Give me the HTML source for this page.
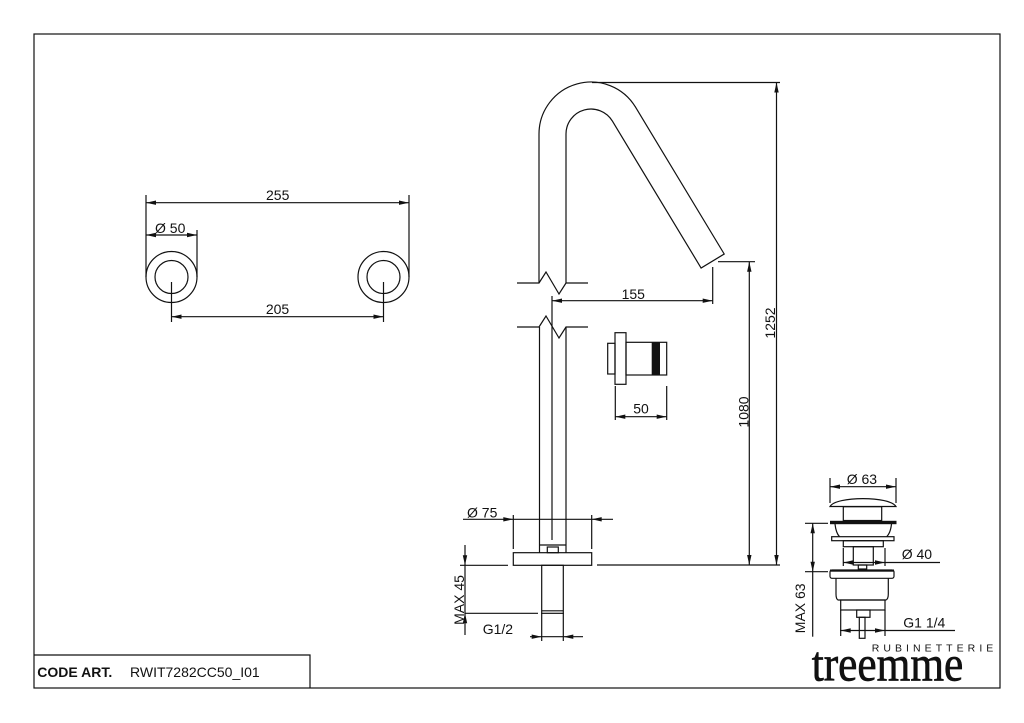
<!DOCTYPE html>
<html><head><meta charset="utf-8"><style>
html,body{margin:0;padding:0;background:#fff;}
svg{display:block;}
text{font-family:"Liberation Sans",Arial,sans-serif;fill:#111;}
</style></head><body>
<svg width="1024" height="723" viewBox="0 0 1024 723" xmlns="http://www.w3.org/2000/svg">
<rect x="0" y="0" width="1024" height="723" fill="#fff"/>
<g fill="none" stroke="#111" stroke-width="1.2">
<!-- frame -->
<rect x="34" y="34" width="966" height="654"/>
<polyline points="34,655 310,655 310,688"/>

<!-- left view circles -->
<circle cx="171.5" cy="277" r="25.5"/>
<circle cx="171.5" cy="277" r="16.5"/>
<circle cx="383.5" cy="277" r="25.5"/>
<circle cx="383.5" cy="277" r="16.5"/>
<line x1="146" y1="195" x2="146" y2="277"/>
<line x1="409" y1="195" x2="409" y2="277"/>
<line x1="197" y1="230" x2="197" y2="277"/>
<line x1="146" y1="202.7" x2="409" y2="202.7"/>
<line x1="146" y1="235" x2="197" y2="235"/>
<line x1="171.5" y1="282" x2="171.5" y2="322"/>
<line x1="383.5" y1="282" x2="383.5" y2="322"/>
<line x1="171.5" y1="316.7" x2="383.5" y2="316.7"/>

<!-- spout -->
<path d="M539,283 L539,134 A52,52 0 0 1 635.5,107.1 L724.2,254 L701.1,268 L612.4,121.1 A25,25 0 0 0 566,134 L566,283"/>
<polyline points="517,283 539,283 546,272 559,294 566,283 588,283"/>
<polyline points="517,327 539,327 546,316 559,338 566,327 588,327"/>
<line x1="539.5" y1="327" x2="539.5" y2="552.7"/>
<line x1="566" y1="327" x2="566" y2="552.7"/>
<line x1="552" y1="296" x2="552" y2="540"/>
<!-- 155 -->
<line x1="552" y1="300.7" x2="712.7" y2="300.7"/>
<line x1="712.7" y1="267" x2="712.7" y2="304"/>
<!-- 1252 / 1080 -->
<line x1="592" y1="82.5" x2="780" y2="82.5"/>
<line x1="776.5" y1="82.5" x2="776.5" y2="565"/>
<line x1="718" y1="261.7" x2="755" y2="261.7"/>
<line x1="749.3" y1="261.7" x2="749.3" y2="565"/>
<line x1="597" y1="565" x2="780" y2="565"/>

<!-- cartridge -->
<rect x="607.7" y="343.3" width="7.3" height="30.7"/>
<rect x="615" y="332.7" width="11" height="51.6"/>
<rect x="626" y="342.3" width="40.7" height="32.7"/>
<line x1="615.3" y1="386" x2="615.3" y2="420"/>
<line x1="666.7" y1="386" x2="666.7" y2="420"/>
<line x1="615.3" y1="416.7" x2="666.7" y2="416.7"/>

<!-- base -->
<line x1="513.3" y1="515" x2="513.3" y2="549"/>
<line x1="591.7" y1="515" x2="591.7" y2="549"/>
<line x1="463" y1="519.3" x2="613" y2="519.3"/>
<line x1="540" y1="545" x2="566" y2="545"/>
<rect x="547.3" y="547" width="11" height="5.7"/>
<rect x="513.3" y="552.7" width="78.4" height="12.6"/>
<rect x="541.7" y="565.3" width="21.6" height="48"/>
<line x1="541.7" y1="610.8" x2="563.3" y2="610.8"/>
<line x1="460" y1="565.3" x2="508" y2="565.3"/>
<line x1="465" y1="613.3" x2="538" y2="613.3"/>
<line x1="465" y1="545" x2="465" y2="635"/>
<line x1="541.7" y1="613" x2="541.7" y2="641"/>
<line x1="563.3" y1="613" x2="563.3" y2="641"/>
<line x1="530" y1="636.7" x2="583" y2="636.7"/>

<!-- drain -->
<line x1="830" y1="478" x2="830" y2="503"/>
<line x1="896" y1="478" x2="896" y2="503"/>
<line x1="830" y1="486.7" x2="896" y2="486.7"/>
<path d="M830,506.5 C836,496 890,496 896,506.5 Z"/>
<rect x="843.3" y="506.7" width="38.4" height="13.8"/>
<path d="M835,524 Q836,533 839.5,536.7 M891.5,524 Q890.5,533 886.7,536.7"/>
<rect x="831.7" y="536.7" width="62.3" height="4"/>
<rect x="843.3" y="540.7" width="40" height="6"/>
<rect x="853.3" y="546.7" width="20" height="18.3"/>
<rect x="858.3" y="565" width="8.4" height="4"/>
<line x1="843.3" y1="548" x2="843.3" y2="566"/>
<line x1="885" y1="548" x2="885" y2="566"/>
<line x1="843.3" y1="562.5" x2="940" y2="562.5"/>
<rect x="830" y="570" width="64" height="8.3" rx="2"/>
<path d="M836,578.3 L836,594 Q836,599 838,600 L886,600 Q888.3,599 888.3,594 L888.3,578.3"/>
<rect x="840.7" y="600" width="44.3" height="10"/>
<rect x="856.7" y="610" width="13.3" height="7.3"/>
<rect x="859.3" y="617.3" width="5.7" height="21"/>
<line x1="840.7" y1="610" x2="840.7" y2="636"/>
<line x1="885" y1="610" x2="885" y2="636"/>
<line x1="840" y1="630.5" x2="955" y2="630.5"/>
<line x1="805" y1="523.3" x2="828" y2="523.3"/>
<line x1="805" y1="571.7" x2="828" y2="571.7"/>
<line x1="812.7" y1="523.3" x2="812.7" y2="636.7"/>
</g>

<!-- filled parts -->
<g fill="#111" stroke="none">
<rect x="651.7" y="342.3" width="8.3" height="32.7"/>
<rect x="830" y="520.8" width="66.5" height="3.4"/>
<rect x="830" y="569.5" width="64" height="2.2"/>
<polygon points="146,202.7 156,200.5 156,204.9"/>
<polygon points="409,202.7 399,200.5 399,204.9"/>
<polygon points="146,235 156,232.8 156,237.2"/>
<polygon points="197,235 187,232.8 187,237.2"/>
<polygon points="171.5,316.7 181.5,314.5 181.5,318.9"/>
<polygon points="383.5,316.7 373.5,314.5 373.5,318.9"/>
<polygon points="552,300.7 562,298.5 562,302.9"/>
<polygon points="712.7,300.7 702.7,298.5 702.7,302.9"/>
<polygon points="776.5,82.5 774.3,92.5 778.7,92.5"/>
<polygon points="776.5,565 774.3,555 778.7,555"/>
<polygon points="749.3,261.7 747.1,271.7 751.5,271.7"/>
<polygon points="749.3,565 747.1,555 751.5,555"/>
<polygon points="615.3,416.7 625.3,414.5 625.3,418.9"/>
<polygon points="666.7,416.7 656.7,414.5 656.7,418.9"/>
<polygon points="513.3,519.3 503.3,517.1 503.3,521.5"/>
<polygon points="591.7,519.3 601.7,517.1 601.7,521.5"/>
<polygon points="465,565.3 462.8,555.3 467.2,555.3"/>
<polygon points="465,613.3 462.8,623.3 467.2,623.3"/>
<polygon points="541.7,636.7 531.7,634.5 531.7,638.9"/>
<polygon points="563.3,636.7 573.3,634.5 573.3,638.9"/>
<polygon points="830,486.7 840,484.5 840,488.9"/>
<polygon points="896,486.7 886,484.5 886,488.9"/>
<polygon points="843.3,562.5 853.3,560.3 853.3,564.7"/>
<polygon points="885,562.5 875,560.3 875,564.7"/>
<polygon points="840.7,630.5 850.7,628.3 850.7,632.7"/>
<polygon points="885,630.5 875,628.3 875,632.7"/>
<polygon points="812.7,523.3 810.5,533.3 814.9,533.3"/>
<polygon points="812.7,571.7 810.5,561.7 814.9,561.7"/>
</g>

<!-- texts -->
<g font-size="14">
<text x="277.7" y="200" text-anchor="middle">255</text>
<text x="155" y="233">Ø 50</text>
<text x="277.5" y="314" text-anchor="middle">205</text>
<text x="633.3" y="299" text-anchor="middle">155</text>
<text x="641" y="413.5" text-anchor="middle">50</text>
<text x="467" y="517.5">Ø 75</text>
<text x="482.7" y="634">G1/2</text>
<text transform="translate(775,323) rotate(-90)" text-anchor="middle">1252</text>
<text transform="translate(748.3,412) rotate(-90)" text-anchor="middle">1080</text>
<text transform="translate(464,600) rotate(-90)" text-anchor="middle">MAX 45</text>
<text transform="translate(805,608.3) rotate(-90)" text-anchor="middle">MAX 63</text>
<text x="846.7" y="484">Ø 63</text>
<text x="901.7" y="559">Ø 40</text>
<text x="903.3" y="627.3">G1 1/4</text>
<text x="37.3" y="677" font-weight="bold">CODE ART.</text>
<text x="130" y="677">RWIT7282CC50_I01</text>
</g>
<text x="871.7" y="651.7" font-size="10.5" textLength="121.6" lengthAdjust="spacing">RUBINETTERIE</text>
<text x="811.7" y="680.7" font-size="50" textLength="151.6" lengthAdjust="spacingAndGlyphs" stroke="#111" stroke-width="0.7" style="font-family:'Liberation Serif',serif;">treemme</text>
</svg>
</body></html>
